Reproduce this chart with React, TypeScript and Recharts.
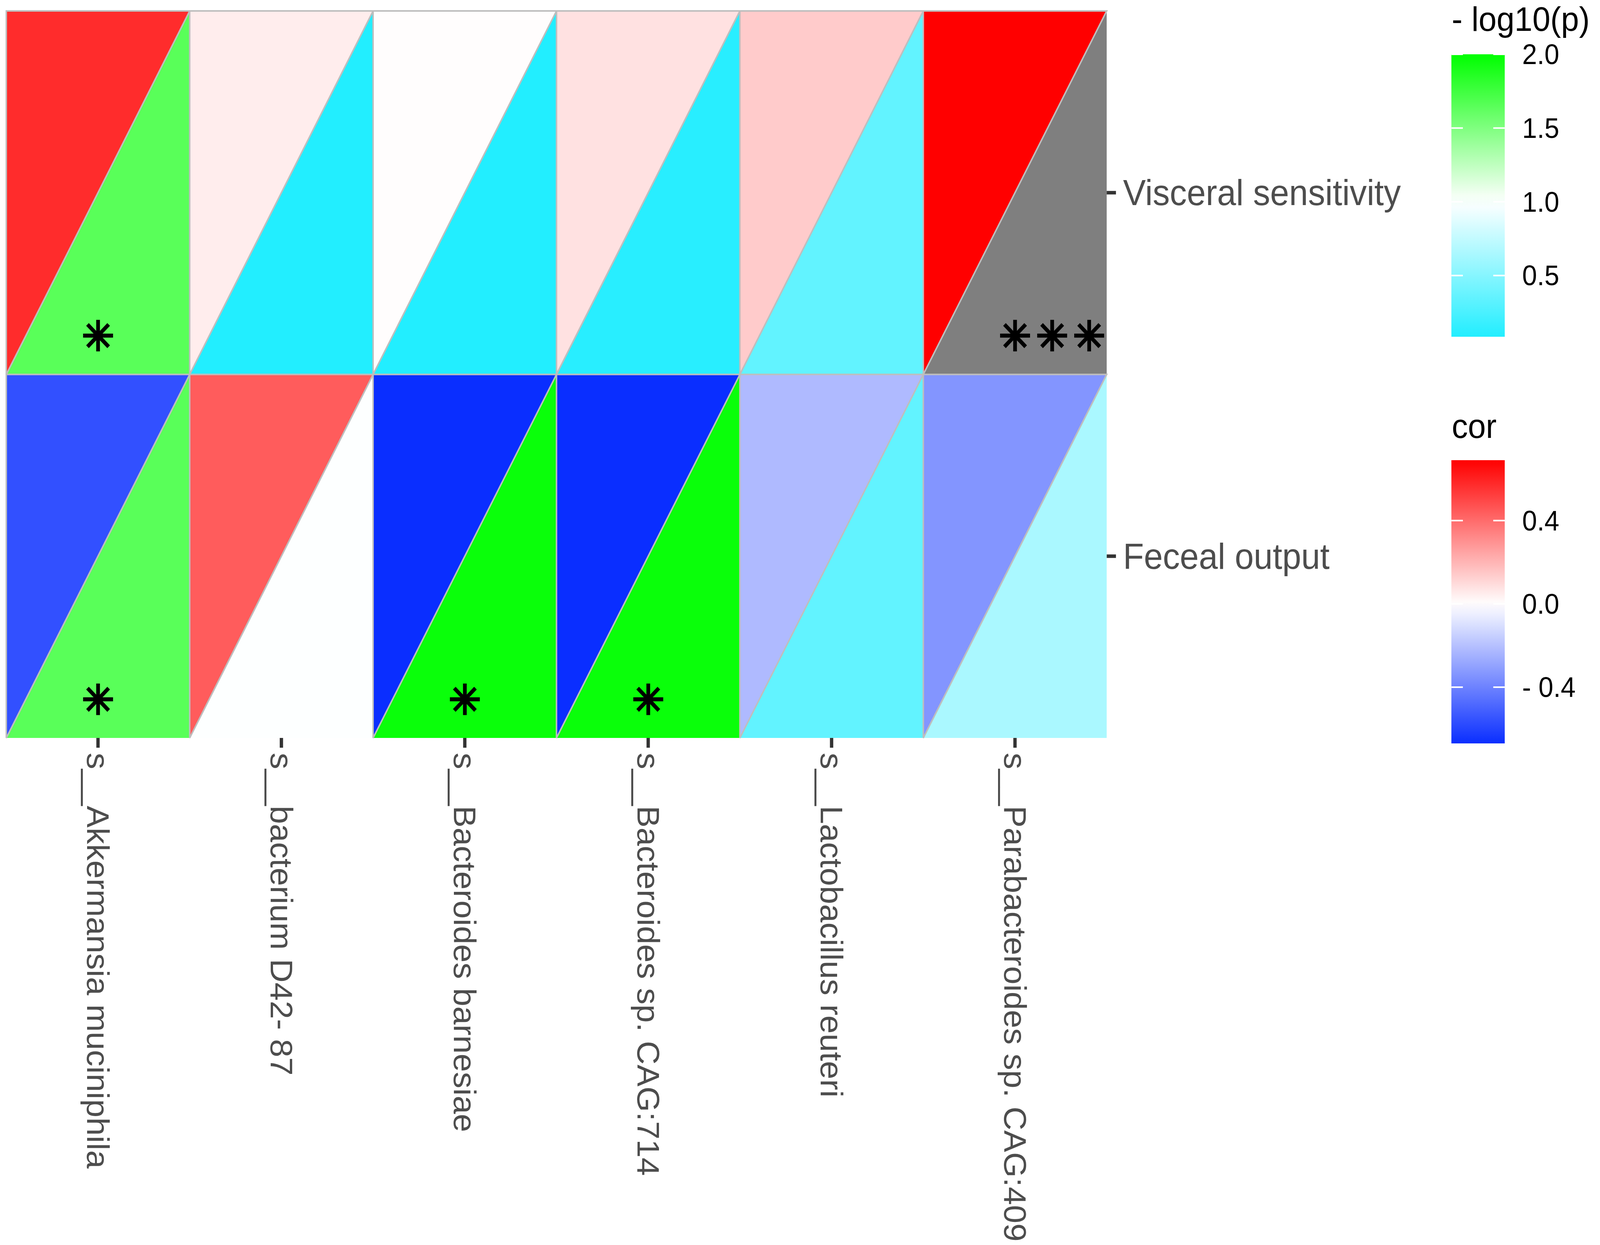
import React from 'react';
import { ScatterChart, Scatter, XAxis, YAxis } from 'recharts';

// species on the x axis, traits on the y axis (bottom to top)
const SPECIES = [
  's__Akkermansia muciniphila',
  's__bacterium D42- 87',
  's__Bacteroides barnesiae',
  's__Bacteroides sp. CAG:714',
  's__Lactobacillus reuteri',
  's__Parabacteroides sp. CAG:409',
];
const TRAITS = ['Feceal output', 'Visceral sensitivity'];

// correlation (upper-left triangle)
const COR_VISCERAL = [0.57, 0.05, 0.005, 0.08, 0.14, 0.69];
const COR_FECEAL = [-0.56, 0.44, -0.67, -0.67, -0.22, -0.34];
// -log10(p) (lower-right triangle), null = out of range (grey)
const LOGP_VISCERAL: (number | null)[] = [1.65, 0.085, 0.085, 0.11, 0.35, null];
const LOGP_FECEAL: (number | null)[] = [1.65, 0.99, 1.96, 1.96, 0.35, 0.65];
// significance marks
const SIG_VISCERAL = ['*', '', '', '', '', '***'];
const SIG_FECEAL = ['*', '', '*', '*', '', ''];

const P_TICKS = [0.5, 1.0, 1.5, 2.0];
const COR_TICKS = [-0.4, 0.0, 0.4];
const P_RANGE = [0.085, 2.0];
const COR_RANGE = [-0.67, 0.69];

// layout is in the reference's 4317 x 3187 pixel space
const W = 4317;
const H = 3187;
const PLOT = { left: 17, top: 28, right: 2986, bottom: 1889 };
const CELL_W = (PLOT.right - PLOT.left) / SPECIES.length;
const CELL_H = (PLOT.bottom - PLOT.top) / TRAITS.length;
const FONT = '"Liberation Sans", Arial, sans-serif';
const STAR = 104;
const STAR_GAP = 100;

const P_STOPS: [number, string][] = [[0.085, '#22EEFF'], [1.0, '#FFFFFF'], [2.0, '#00FF00']];
const COR_STOPS: [number, string][] = [[-0.67, '#0A2EFF'], [0, '#FFFFFF'], [0.69, '#FF0000']];

const rgb = (h: string) => [1, 3, 5].map((i) => parseInt(h.slice(i, i + 2), 16));

function ramp(stops: [number, string][], v: number | null) {
  if (v === null || v === undefined) return '#7F7F7F';
  const x = Math.max(stops[0][0], Math.min(stops[stops.length - 1][0], v));
  let i = 0;
  while (i < stops.length - 2 && x > stops[i + 1][0]) i++;
  const [v0, c0] = stops[i];
  const [v1, c1] = stops[i + 1];
  const t = (x - v0) / (v1 - v0);
  const a = rgb(c0);
  const b = rgb(c1);
  return `rgb(${a.map((c, k) => Math.round(c + (b[k] - c) * t)).join(',')})`;
}

const cells = [
  ...SPECIES.map((s, i) => ({ x: i + 1, y: 2, cor: COR_VISCERAL[i], logp: LOGP_VISCERAL[i], sig: SIG_VISCERAL[i] })),
  ...SPECIES.map((s, i) => ({ x: i + 1, y: 1, cor: COR_FECEAL[i], logp: LOGP_FECEAL[i], sig: SIG_FECEAL[i] })),
];

const PTriangle = (props: any) => {
  const { cx, cy, payload } = props;
  const l = cx - CELL_W / 2, r = cx + CELL_W / 2, t = cy - CELL_H / 2, b = cy + CELL_H / 2;
  return <polygon points={`${r},${t} ${r},${b} ${l},${b}`} fill={ramp(P_STOPS, payload.logp)} stroke="none" />;
};

const CorTriangle = (props: any) => {
  const { cx, cy, payload } = props;
  const l = cx - CELL_W / 2, r = cx + CELL_W / 2, t = cy - CELL_H / 2, b = cy + CELL_H / 2;
  const n = payload.sig.length;
  const xs = Array.from({ length: n }, (_, k) => cx + k * STAR_GAP).join(' ');
  return (
    <g>
      <polygon points={`${l},${t} ${r},${t} ${l},${b}`} fill={ramp(COR_STOPS, payload.cor)} stroke="#BEBEBE" strokeWidth={4} />
      {n ? (
        <text x={xs} y={b - 97} fontSize={STAR} fontFamily='"DejaVu Sans"' fill="#000" stroke="#000" strokeWidth={5}
          strokeLinecap="round" textAnchor="middle" dominantBaseline="central">
          {'\u2733'.repeat(n)}
        </text>
      ) : null}
    </g>
  );
};

const SpeciesTick = (props: any) => {
  const { x, y, payload } = props;
  return (
    <text transform={`translate(${x},${y}) rotate(90)`} fontSize={84} fontFamily={FONT} fill="#4D4D4D" textAnchor="start" dominantBaseline="central">
      {SPECIES[payload.value - 1]}
    </text>
  );
};

const TraitTick = (props: any) => {
  const { x, y, payload } = props;
  return (
    <text x={x} y={y} fontSize={92} fontFamily={FONT} fill="#4D4D4D" textAnchor="start" dominantBaseline="central">
      {TRAITS[payload.value - 1]}
    </text>
  );
};

function ColorBar({ id, top, bottom, range, stops, ticks, title, titleY, fmt }: any) {
  const x = 3916, w = 144;
  const yOf = (v: number) => top + ((range[1] - v) / (range[1] - range[0])) * (bottom - top);
  const n = 24;
  const gs = Array.from({ length: n + 1 }, (_, k) => range[1] - (k / n) * (range[1] - range[0]));
  return (
    <g>
      <defs>
        <linearGradient id={id} x1="0" y1="0" x2="0" y2="1">
          {gs.map((v, k) => (
            <stop key={k} offset={k / n} stopColor={ramp(stops, v)} />
          ))}
        </linearGradient>
      </defs>
      <text x={x + 1} y={titleY} fontSize={87} fontFamily={FONT} fill="#000">{title}</text>
      <rect x={x} y={top} width={w} height={bottom - top} fill={`url(#${id})`} />
      {ticks.map((v: number) => (
        <g key={v}>
          <line x1={x} x2={x + 31} y1={yOf(v)} y2={yOf(v)} stroke="#fff" strokeWidth={4} />
          <line x1={x + w - 31} x2={x + w} y1={yOf(v)} y2={yOf(v)} stroke="#fff" strokeWidth={4} />
          <text x={4107} y={yOf(v)} fontSize={72} fontFamily={FONT} fill="#000" dominantBaseline="central">{fmt(v)}</text>
        </g>
      ))}
    </g>
  );
}

export default function App() {
  const xH = 1250;
  const yW = 1000;
  // the page may be narrower than the reference, so squeeze to fit
  const sx = typeof window !== 'undefined' ? Math.min(1, window.innerWidth / W) : 1;
  const sy = typeof window !== 'undefined' ? Math.min(1, window.innerHeight / H) : 1;
  return (
    <div
      style={{
        position: 'absolute', left: 0, top: 0, width: W, height: H, background: '#fff',
        transform: `scale(${sx}, ${sy})`, transformOrigin: '0 0',
      }}
    >
      <ScatterChart
        width={W}
        height={H}
        margin={{ top: PLOT.top, left: PLOT.left, right: W - PLOT.right - yW, bottom: H - PLOT.bottom - xH }}
      >
        <XAxis
          type="number"
          dataKey="x"
          domain={[0.5, 6.5]}
          ticks={[1, 2, 3, 4, 5, 6]}
          interval={0}
          height={xH}
          axisLine={false}
          tickSize={25}
          tickMargin={13}
          tickLine={{ stroke: '#333333', strokeWidth: 9 }}
          tick={<SpeciesTick />}
        />
        <YAxis
          type="number"
          dataKey="y"
          orientation="right"
          domain={[0.5, 2.5]}
          ticks={[1, 2]}
          interval={0}
          width={yW}
          axisLine={false}
          tickSize={25}
          tickMargin={19}
          tickLine={{ stroke: '#333333', strokeWidth: 9 }}
          tick={<TraitTick />}
        />
        <Scatter data={cells} shape={<PTriangle />} isAnimationActive={false} />
        <Scatter data={cells} shape={<CorTriangle />} isAnimationActive={false} />
      </ScatterChart>
      <svg width={W} height={H} style={{ position: 'absolute', left: 0, top: 0, pointerEvents: 'none' }}>
        <ColorBar id="pgrad" top={139} bottom={862} range={P_RANGE} stops={P_STOPS} ticks={P_TICKS}
          title="- log10(p)" titleY={79} fmt={(v: number) => v.toFixed(1)} />
        <ColorBar id="cgrad" top={1178} bottom={1903} range={COR_RANGE} stops={COR_STOPS} ticks={COR_TICKS}
          title="cor" titleY={1121} fmt={(v: number) => (v < 0 ? '- ' + Math.abs(v).toFixed(1) : v.toFixed(1))} />
      </svg>
    </div>
  );
}
